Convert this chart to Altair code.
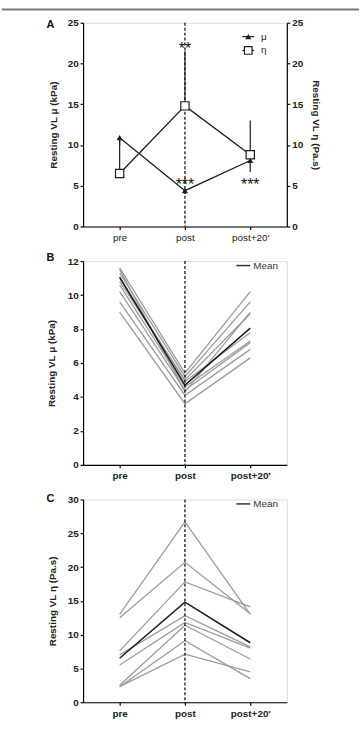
import json
import altair as alt
import pandas as pd

# Time points
stages = ["pre", "post", "post+20'"]
stage_idx = [0, 1, 2]
post_idx = stages.index("post")

# Panel A: group means with one-sided SD bars
mu_mean = [10.9, 4.4, 8.1]
mu_lower = [9.9, 4.0, 6.7]
eta_mean = [6.5, 14.8, 8.8]
eta_upper = [10.7, 21.5, 13.0]

sig_labels = ["**", "***", "***"]
sig_stage = [1, 1, 2]
sig_value = [21.2, 4.5, 4.5]

legend_a = ["μ", "η"]

# Panel B: individual shear modulus (kPa)
mu_pre = [11.6, 11.5, 11.3, 11.0, 10.8, 10.6, 10.2, 9.6, 9.0]
mu_post = [5.4, 4.3, 5.2, 4.9, 5.0, 4.6, 4.4, 4.1, 3.6]
mu_post20 = [10.2, 9.0, 9.6, 7.8, 8.9, 7.3, 7.2, 6.8, 6.3]
mu_group = [11.05, 4.7, 8.05]

# Panel C: individual viscosity (Pa.s)
eta_pre = [13.0, 12.5, 7.6, 7.0, 5.5, 2.5, 2.3, 2.3]
eta_post = [26.7, 20.7, 17.8, 12.8, 11.8, 11.4, 9.1, 7.1]
eta_post20 = [13.0, 13.1, 14.1, 8.2, 8.0, 6.4, 3.5, 4.5]
eta_group = [6.5, 14.8, 8.8]

FONT = "Liberation Sans"
W, H = 206, 206
GRAY = "#9b9b9b"
INK = "#1c1c1c"

X_SCALE = alt.Scale(domain=[-0.56, 2.56], nice=False, zero=False)
LABEL_EXPR = f"{json.dumps(stages)}[datum.value]"


def x_enc(bold):
    return alt.X(
        "pos:Q",
        scale=X_SCALE,
        axis=alt.Axis(
            values=stage_idx, labelExpr=LABEL_EXPR, title=None, tickSize=3,
            labelFontSize=10, labelFontWeight="bold" if bold else "normal",
            labelPadding=3, labelColor="#222", domainColor="black",
            tickColor="black", domainWidth=1.2, tickWidth=1.2, grid=False,
        ),
    )


def y_axis(values, title, orient="left", pad=9):
    return alt.Axis(
        values=values, title=title, orient=orient, tickSize=3,
        labelFontSize=10, labelFontWeight="bold", labelColor="#222",
        titleFontSize=10, titleFontWeight="bold", titleColor="#222",
        titlePadding=pad, labelPadding=2, grid=False, domainColor="black",
        tickColor="black", domainWidth=1.2, tickWidth=1.2,
    )


def long_table(pre, post, post20):
    rows = []
    for i, vals in enumerate(zip(pre, post, post20)):
        for j, v in enumerate(vals):
            rows.append({"subject": i, "pos": stage_idx[j], "value": v})
    return pd.DataFrame(rows)


def one(**cols):
    return pd.DataFrame({k: [v] for k, v in cols.items()})


def dashed_post(bold):
    return alt.Chart(one(pos=post_idx)).mark_rule(
        color="black", strokeDash=[3, 2], strokeWidth=1.2
    ).encode(x=x_enc(bold), y=alt.value(0), y2=alt.value(H))


def panel_letter(letter, dy):
    return alt.Chart(one(t=letter)).mark_text(
        font=FONT, fontSize=11, fontWeight="bold", color="#111"
    ).encode(text="t:N", x=alt.value(-33), y=alt.value(dy))


def mean_key():
    line = alt.Chart(one(k=0)).mark_rule(color="#333", strokeWidth=1.5).encode(
        x=alt.value(155), x2=alt.value(169), y=alt.value(4.5)
    )
    text = alt.Chart(one(t="Mean")).mark_text(
        font=FONT, fontSize=10, align="left", baseline="middle", color="#333"
    ).encode(text="t:N", x=alt.value(172), y=alt.value(4.5))
    return line + text


# ---------- Panel A ----------
a_means = pd.DataFrame({"pos": stage_idx, "mu": mu_mean, "mu_lo": mu_lower,
                        "eta": eta_mean, "eta_hi": eta_upper})
a_sig = pd.DataFrame({"pos": sig_stage, "value": sig_value, "t": sig_labels})

ya_left = alt.Y("mu:Q", scale=alt.Scale(domain=[0, 25], nice=False),
                axis=y_axis([0, 5, 10, 15, 20, 25], "Resting VL μ (kPa)"))
ya_right = alt.Y("eta:Q", scale=alt.Scale(domain=[0, 25], nice=False),
                 axis=y_axis([0, 5, 10, 15, 20, 25], "Resting VL η (Pa.s)",
                             orient="right", pad=8))

base_a = alt.Chart(a_means)
mu_err = base_a.mark_rule(color=INK, strokeWidth=1.2).encode(
    x=x_enc(False), y=ya_left, y2="mu_lo:Q")
mu_line = base_a.mark_line(color=INK, strokeWidth=1.3).encode(x=x_enc(False), y=ya_left)
mu_pts = base_a.mark_point(shape="triangle-up", filled=True, color=INK, size=38,
                           opacity=1).encode(x=x_enc(False), y=ya_left)
sig = alt.Chart(a_sig).mark_text(font=FONT, fontSize=16, color="#111",
                                 baseline="alphabetic").encode(
    x=x_enc(False), y=alt.Y("value:Q", scale=alt.Scale(domain=[0, 25], nice=False)),
    text="t:N")

key_lines = alt.Chart(pd.DataFrame({"t": legend_a, "row": [14, 28]})).mark_rule(
    color=INK, strokeWidth=1.2).encode(
    x=alt.value(161), x2=alt.value(173), y=alt.Y("row:Q", scale=None))
key_tri = alt.Chart(one(t=legend_a[0])).mark_point(
    shape="triangle-up", filled=True, color=INK, size=38, opacity=1).encode(
    x=alt.value(167), y=alt.value(14))
key_sq = alt.Chart(one(t=legend_a[1])).mark_point(
    shape="square", filled=True, fill="white", stroke=INK, strokeWidth=1.2,
    size=60, opacity=1).encode(x=alt.value(167), y=alt.value(28))
key_text = alt.Chart(pd.DataFrame({"t": legend_a, "row": [14, 28]})).mark_text(
    font=FONT, fontSize=10, align="left", baseline="middle", color="#222").encode(
    x=alt.value(180), y=alt.Y("row:Q", scale=None), text="t:N")

top_border = alt.Chart(one(k=0)).mark_rule(color="#7a7a7a", strokeWidth=2).encode(
    x=alt.value(-82), x2=alt.value(279), y=alt.value(-13.5))

left_a = alt.layer(dashed_post(False), mu_err, mu_line, mu_pts, sig,
                   key_lines, key_tri, key_sq, key_text, top_border,
                   panel_letter("A", 2))

eta_err = base_a.mark_rule(color=INK, strokeWidth=1.2).encode(
    x=x_enc(False), y=ya_right, y2="eta_hi:Q")
eta_line = base_a.mark_line(color=INK, strokeWidth=1.3).encode(x=x_enc(False), y=ya_right)
eta_pts = base_a.mark_point(shape="square", filled=True, fill="white", stroke=INK,
                            strokeWidth=1.2, size=70, opacity=1).encode(
    x=x_enc(False), y=ya_right)
right_a = alt.layer(eta_err, eta_line, eta_pts)

panel_a = alt.layer(left_a, right_a).resolve_scale(y="independent").properties(
    width=W, height=H)

# ---------- Panel B ----------
yb = alt.Y("value:Q", scale=alt.Scale(domain=[0, 12], nice=False),
           axis=y_axis([0, 2, 4, 6, 8, 10, 12], "Resting VL μ (kPa)", pad=11))
b_lines = alt.Chart(long_table(mu_pre, mu_post, mu_post20)).mark_line(
    color=GRAY, strokeWidth=1.3).encode(x=x_enc(True), y=yb, detail="subject:N")
b_mean = alt.Chart(pd.DataFrame({"pos": stage_idx, "value": mu_group})).mark_line(
    color=INK, strokeWidth=1.5).encode(x=x_enc(True), y=yb)
panel_b = alt.layer(b_lines, b_mean, dashed_post(True), mean_key(),
                    panel_letter("B", -3)).properties(width=W, height=H)

# ---------- Panel C ----------
yc = alt.Y("value:Q", scale=alt.Scale(domain=[0, 30], nice=False),
           axis=y_axis([0, 5, 10, 15, 20, 25, 30], "Resting VL η (Pa.s)", pad=10))
c_lines = alt.Chart(long_table(eta_pre, eta_post, eta_post20)).mark_line(
    color=GRAY, strokeWidth=1.3).encode(x=x_enc(True), y=yc, detail="subject:N")
c_mean = alt.Chart(pd.DataFrame({"pos": stage_idx, "value": eta_group})).mark_line(
    color=INK, strokeWidth=1.5).encode(x=x_enc(True), y=yc)
panel_c = alt.layer(c_lines, c_mean, dashed_post(True), mean_key(),
                    panel_letter("C", 0)).properties(width=W, height=H - 1)

chart = alt.vconcat(panel_a, panel_b, panel_c, spacing=35, bounds="flush").properties(
    padding={"top": 4, "left": 0, "right": 0, "bottom": 0},
    background="white",
).configure_view(stroke=None).configure(font=FONT)

chart.save("out.html", embed_options={"renderer": "svg", "actions": False})
